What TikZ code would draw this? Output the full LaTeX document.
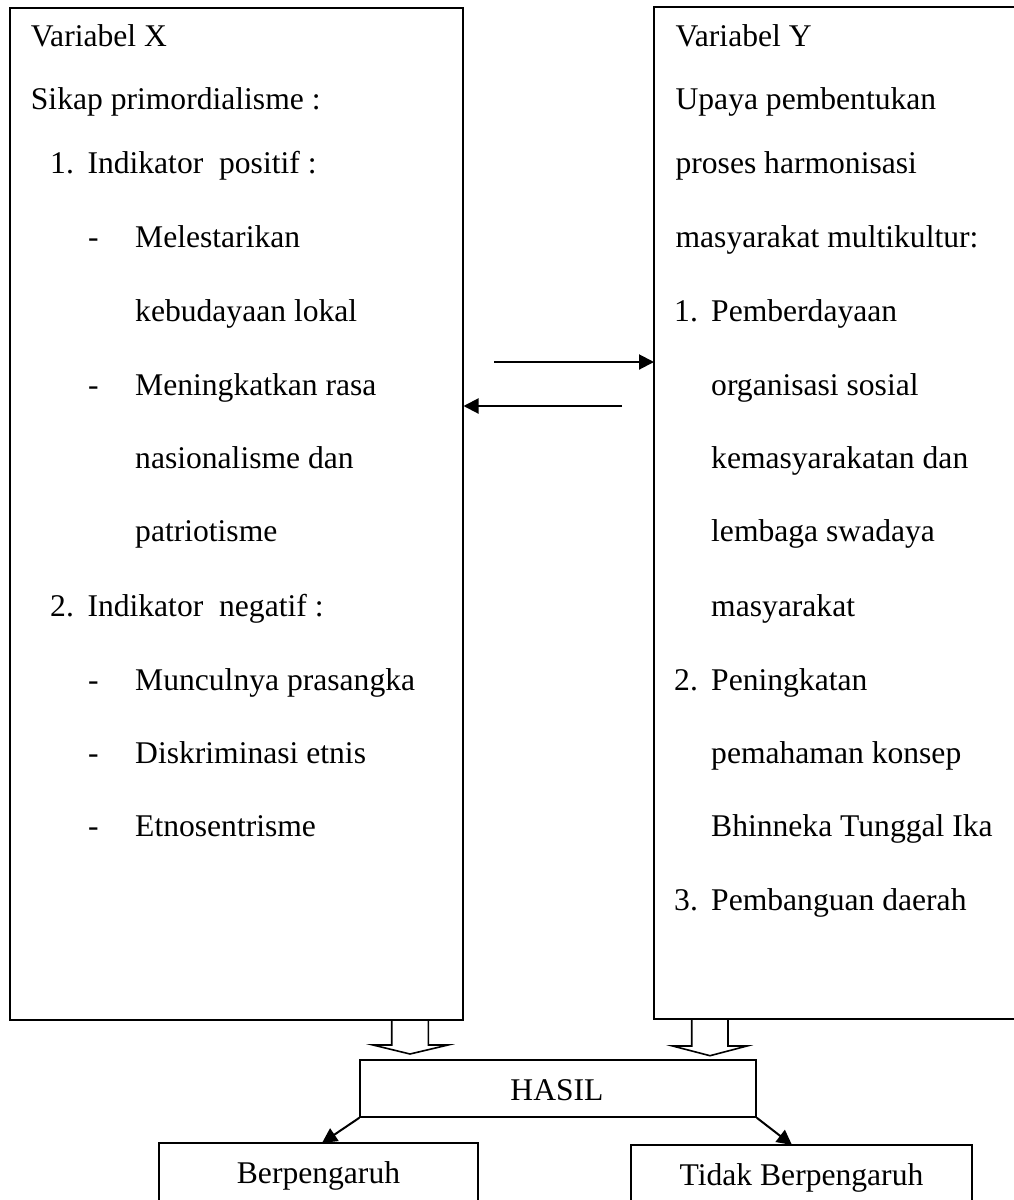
\documentclass[tikz,border=0pt]{standalone}
\usepackage{fontspec}
\setmainfont{Liberation Serif}
\usetikzlibrary{arrows.meta}
\begin{document}
\begin{tikzpicture}[x=1pt,y=-1pt,
  txt/.style={anchor=base west, inner sep=0pt, font=\fontsize{31.6}{38}\selectfont},
  ctxt/.style={anchor=base, inner sep=0pt, font=\fontsize{31.6}{38}\selectfont},
  frame/.style={line width=1.8pt},
  conn/.style={line width=2pt, -{Triangle[length=15pt,width=15pt]}},
  hollow/.style={line width=1.6pt, line join=miter}]
\useasboundingbox (0,0) rectangle (1014,1200);

% Left box (Variabel X)
\node[frame, draw, anchor=north west, minimum width=452.4pt, minimum height=1012.3pt, inner sep=0pt] (X) at (9.3,6.7) {};
% Right box (Variabel Y), open at the right page edge
\coordinate (Ytl) at (654,6.7);
\coordinate (Ybl) at (654,1019);
\draw[frame] (1020,6.7) -- (Ytl) -- (Ybl) -- (1020,1019);

% Left texts
\node[txt] (x1) at (30.7,46.7) {Variabel X};
\node[txt] (x2) at (30.7,109.3) {Sikap primordialisme :};
\node[txt] (x3n) at (50,173.3) {1.};
\node[txt] (x3) at (87.3,173.3) {Indikator\ \ positif :};
\node[txt] (x4d) at (88,247.3) {-};
\node[txt] (x4) at (135,247.3) {Melestarikan};
\node[txt] (x5) at (135,321.7) {kebudayaan lokal};
\node[txt] (x6d) at (88,395) {-};
\node[txt] (x6) at (135,395) {Meningkatkan rasa};
\node[txt] (x7) at (135,468.3) {nasionalisme dan};
\node[txt] (x8) at (135,541.7) {patriotisme};
\node[txt] (x9n) at (50,616.7) {2.};
\node[txt] (x9) at (87.3,616.7) {Indikator\ \ negatif :};
\node[txt] (x10d) at (88,690) {-};
\node[txt] (x10) at (135,690) {Munculnya prasangka};
\node[txt] (x11d) at (88,763.4) {-};
\node[txt] (x11) at (135,763.4) {Diskriminasi etnis};
\node[txt] (x12d) at (88,836.8) {-};
\node[txt] (x12) at (135,836.8) {Etnosentrisme};

% Right texts
\node[txt] (y1) at (675.4,46.7) {Variabel Y};
\node[txt] (y2) at (675.4,109.3) {Upaya pembentukan};
\node[txt] (y3) at (675.4,173.3) {proses harmonisasi};
\node[txt] (y4) at (675.4,247.3) {masyarakat multikultur:};
\node[txt] (y5n) at (674,321.7) {1.};
\node[txt] (y5) at (711,321.7) {Pemberdayaan};
\node[txt] (y6) at (711,395) {organisasi sosial};
\node[txt] (y7) at (711,468.3) {kemasyarakatan dan};
\node[txt] (y8) at (711,541.7) {lembaga swadaya};
\node[txt] (y9) at (711,616.7) {masyarakat};
\node[txt] (y10n) at (674,690) {2.};
\node[txt] (y10) at (711,690) {Peningkatan};
\node[txt] (y11) at (711,763.4) {pemahaman konsep};
\node[txt] (y12) at (711,836.8) {Bhinneka Tunggal Ika};
\node[txt] (y13n) at (674,910.2) {3.};
\node[txt] (y13) at (711,910.2) {Pembanguan daerah};

% Horizontal arrows between boxes
\coordinate (a1) at (494,362);
\draw[conn] (a1) -- (Ytl |- a1);
\coordinate (a2) at (622,406);
\draw[conn] (a2) -- (X.east |- a2);

% Hollow block arrows
\draw[hollow] (391.7,1019) -- (391.7,1045) -- (373,1045) -- (410,1054) -- (448,1045) -- (428.3,1045) -- (428.3,1019);
\draw[hollow] (691.7,1019) -- (691.7,1046) -- (672.7,1046) -- (710,1055.7) -- (747,1046) -- (728,1046) -- (728,1019);

% HASIL box
\node[frame, draw, anchor=north west, minimum width=395.7pt, minimum height=57pt, inner sep=0pt] (H) at (359.3,1059) {};
\node[ctxt] (Ht) at (557,1100) {HASIL};

% Bottom boxes (open at the page bottom)
\coordinate (Btop) at (322,1143);
\draw[frame] (159,1210) -- (159,1143) -- (478,1143) -- (478,1210);
\node[ctxt] (Bt) at (318.5,1183.3) {Berpengaruh};
\coordinate (Ttop) at (792,1145);
\draw[frame] (630.7,1210) -- (630.7,1145) -- (972,1145) -- (972,1210);
\node[ctxt] (Tt) at (801.5,1185) {Tidak Berpengaruh};

% Result arrows
\draw[conn] (H.south west) -- (Btop);
\draw[conn] (H.south east) -- (Ttop);
\end{tikzpicture}
\end{document}
